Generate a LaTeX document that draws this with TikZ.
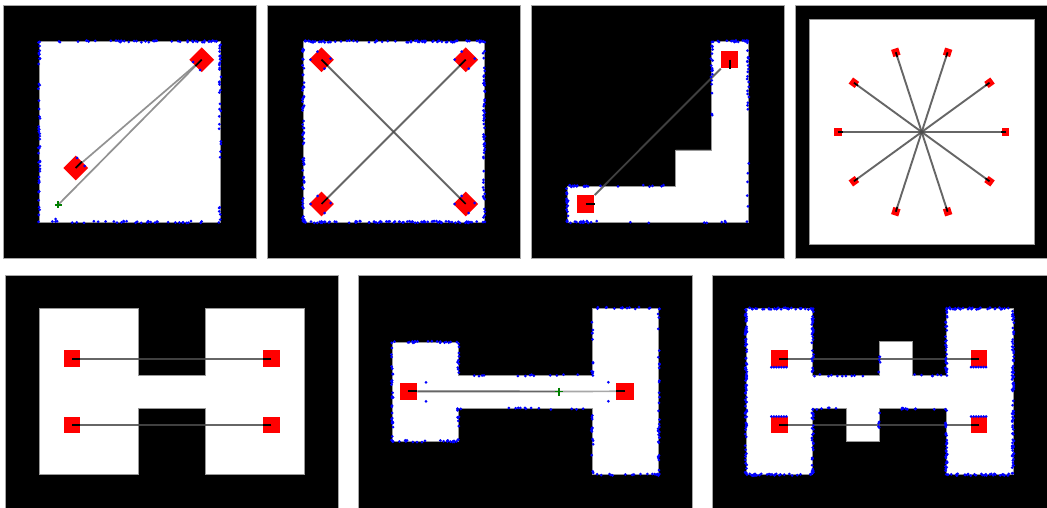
\documentclass[tikz,border=0pt]{standalone}
\usepackage{tikz}
\usetikzlibrary{calc}

% dots scattered along a wall: x1,y1,x2,y2,how many
\newcommand{\walldots}[5]{
    \foreach \i in {1,...,#5} {
        \pgfmathsetmacro{\t}{0.5+0.5*rand}
        \pgfmathsetmacro{\dotx}{#1+(#3-#1)*\t+0.9*rand}
        \pgfmathsetmacro{\doty}{#2+(#4-#2)*\t+0.9*rand}
        \fill [hit] (\dotx,\doty) circle (1.5);
    }
}

\begin{document}
\begin{tikzpicture}[x=1pt, y=-1pt]
    % Stili
    \tikzstyle{panel}=[fill=black, draw=black!35, line width=0.6pt]
    \tikzstyle{free}=[fill=white, draw=black!40, line width=0.6pt]
    \tikzstyle{agent}=[rectangle, draw=none, fill=red, inner sep=0pt, minimum size=17.5pt]
    \tikzstyle{smallagent}=[agent, minimum size=7.5pt]
    \tikzstyle{link}=[black!70, opacity=0.85, line width=1.9pt]
    \tikzstyle{thinlink}=[black!50, opacity=0.85, line width=1.7pt]
    \tikzstyle{tick}=[black, line width=1.7pt]
    \tikzstyle{hit}=[fill=blue]
    \tikzstyle{target}=[green!50!black, line width=1.9pt]

    \pgfmathsetseed{4}
    \useasboundingbox (0,0) rectangle (1047,508);

    % Primo pannello
    \draw [panel] (3.7,5.5) rectangle (256,258);
    \draw [free] (39.3,41.5) rectangle (220,222);
    \node (aS) [agent, rotate=45] at (75.7,168) {};
    \node (aG) [agent, rotate=45] at (201.7,59.7) {};
    \coordinate (aP) at (58.3,204.7);
    \draw [thinlink] (aS) -- (aG);
    \draw [thinlink] (aP) -- (aG);
    \draw [tick] (aS.center) -- (aS.east);
    \draw [tick] (aG.center) -- (aG.west);
    \draw [target] (aP) ++(-3.5,0) -- ++(7,0) (aP) ++(0,-3.5) -- ++(0,7);
    \walldots{39.3}{41.5}{220}{41.5}{34}
    \walldots{39.3}{222}{220}{222}{36}
    \walldots{39.3}{41.5}{39.3}{222}{45}
    \walldots{220}{41.5}{220}{222}{26}
    \walldots{190}{41.5}{220}{41.5}{10}
    \walldots{220}{45}{220}{70}{9}
    \fill [hit] (55.5,219) circle (1.5) (77,158) circle (1.5) (84.5,166) circle (1.5) (193,62) circle (1.5) (200,70) circle (1.5);

    % Secondo pannello
    \draw [panel] (267.5,5.5) rectangle (520,258);
    \draw [free] (303.3,41.5) rectangle (484,222);
    \node (bA) [agent, rotate=45] at (321.5,59.7) {};
    \node (bB) [agent, rotate=45] at (465.7,59.7) {};
    \node (bC) [agent, rotate=45] at (321.5,204) {};
    \node (bD) [agent, rotate=45] at (465.7,204) {};
    \draw [link] (bA) -- (bD);
    \draw [link] (bB) -- (bC);
    \draw [tick] (bA.center) -- (bA.south);
    \draw [tick] (bB.center) -- (bB.west);
    \draw [tick] (bC.center) -- (bC.east);
    \draw [tick] (bD.center) -- (bD.north);
    \walldots{303.3}{41.5}{484}{41.5}{70}
    \walldots{303.3}{222}{484}{222}{80}
    \walldots{303.3}{41.5}{303.3}{222}{65}
    \walldots{484}{41.5}{484}{222}{60}
    \foreach \n in {bA,bB,bC,bD} {
        \fill [hit] (\n.center) ++(-11,0) circle (1.5) ++(20,-1) circle (1.5) ++(-6,10) circle (1.5) ++(-7,-17) circle (1.5);
    }

    % Terzo pannello
    \draw [panel] (531.7,5.5) rectangle (784,258);
    \draw [free] (567.3,186) -- (675.7,186) -- (675.7,150) -- (711.7,150) -- (711.7,41.3) -- (748,41.3) -- (748,222) -- (567.3,222) -- cycle;
    \node (cS) [agent] at (585.7,204) {};
    \node (cG) [agent] at (729.7,59.7) {};
    \draw [link] (cS) -- (cG);
    \draw [tick] (cS.center) -- (cS.east);
    \draw [tick] (cG.center) -- (cG.south);
    \walldots{567.3}{186}{590}{186}{14}
    \walldots{590}{186}{665}{186}{7}
    \walldots{567.3}{222}{600}{222}{16}
    \walldots{600}{222}{748}{222}{8}
    \walldots{567.3}{186}{567.3}{222}{18}
    \walldots{711.7}{41.3}{748}{41.3}{16}
    \walldots{711.7}{41.3}{711.7}{80}{16}
    \walldots{711.7}{80}{711.7}{136}{5}
    \walldots{748}{41.3}{748}{110}{20}
    \walldots{748}{160}{748}{222}{5}

    % Quarto pannello
    \draw [panel] (795.3,5.5) rectangle (1047,258);
    \draw [free] (809.3,19.3) rectangle (1034.3,244.3);
    \coordinate (hub) at (921.7,132);
    \foreach \a in {0,36,...,324} {
        \node (d\a) [smallagent, rotate=-\a] at ($(hub)+(\a:83.8)$) {};
    }
    \foreach \a/\b in {0/180,36/216,72/252,108/288,144/324} {
        \draw [link] (d\a) -- (d\b);
    }
    \foreach \a in {0,36,...,324} {
        \draw [tick] (d\a.center) -- ($(d\a.center)!5pt!(hub)$);
    }

    % Quinto pannello
    \draw [panel] (5.3,275.5) rectangle (338.7,510);
    \draw [free] (39,308) -- (138.3,308) -- (138.3,375.3) -- (205.3,375.3) -- (205.3,308) -- (304.7,308) -- (304.7,474.7) -- (205.3,474.7) -- (205.3,408.7) -- (138.3,408.7) -- (138.3,474.7) -- (39,474.7) -- cycle;
    \node (eA) [agent, minimum size=16.5pt] at (72,358.7) {};
    \node (eB) [agent, minimum size=16.5pt] at (271.3,358.7) {};
    \node (eC) [agent, minimum size=16.5pt] at (72,425) {};
    \node (eD) [agent, minimum size=16.5pt] at (271.3,425) {};
    \draw [link] (eA) -- (eB);
    \draw [link] (eC) -- (eD);
    \foreach \n in {eA,eC} { \draw [tick] (\n.center) -- (\n.east); }
    \foreach \n in {eB,eD} { \draw [tick] (\n.center) -- (\n.west); }

    % Sesto pannello
    \draw [panel] (358.7,275.5) rectangle (692.3,510);
    \draw [free] (392.3,342) -- (458.3,342) -- (458.3,375.3) -- (592.3,375.3) -- (592.3,308) -- (658.7,308) -- (658.7,474.7) -- (592.3,474.7) -- (592.3,408.7) -- (458.3,408.7) -- (458.3,441.3) -- (392.3,441.3) -- cycle;
    \node (fS) [agent] at (408.3,391.3) {};
    \node (fG) [agent] at (625,391.3) {};
    \coordinate (fP) at (559,391.5);
    \draw [link] (fS) -- (fP);
    \draw [thinlink, black!40] (fP) -- (fG);
    \draw [tick] (fS.center) -- (fS.east);
    \draw [tick] (fG.center) -- (fG.west);
    \draw [target] (fP) ++(-4,0) -- ++(8,0) (fP) ++(0,-4) -- ++(0,8);
    \walldots{392.3}{342}{458.3}{342}{20}
    \walldots{392.3}{441.3}{458.3}{441.3}{20}
    \walldots{392.3}{342}{392.3}{441.3}{30}
    \walldots{458.3}{342}{458.3}{375.3}{10}
    \walldots{458.3}{408.7}{458.3}{441.3}{10}
    \walldots{458.3}{375.3}{592.3}{375.3}{13}
    \walldots{458.3}{408.7}{592.3}{408.7}{13}
    \walldots{592.3}{308}{592.3}{375.3}{11}
    \walldots{592.3}{408.7}{592.3}{474.7}{14}
    \walldots{592.3}{308}{658.7}{308}{14}
    \walldots{592.3}{474.7}{658.7}{474.7}{15}
    \walldots{658.7}{308}{658.7}{474.7}{34}
    \fill [hit] (426,382.3) circle (1.5) (426,401.3) circle (1.5) (608.3,382.3) circle (1.5) (608.3,401.3) circle (1.5);

    % Settimo pannello
    \draw [panel] (712.3,275.5) rectangle (1048,510);
    \draw [free] (746,308.5) -- (812.7,308.5) -- (812.7,375.3) -- (879.3,375.3) -- (879.3,341.3) -- (912.7,341.3) -- (912.7,375.3) -- (946.3,375.3) -- (946.3,308.5) -- (1013,308.5) -- (1013,474.7) -- (946.3,474.7) -- (946.3,408.7) -- (879.3,408.7) -- (879.3,441.3) -- (846,441.3) -- (846,408.7) -- (812.7,408.7) -- (812.7,474.7) -- (746,474.7) -- cycle;
    \node (gA) [agent, minimum size=16.5pt] at (779.3,358.7) {};
    \node (gB) [agent, minimum size=16.5pt] at (979,358.7) {};
    \node (gC) [agent, minimum size=16.5pt] at (779.3,425) {};
    \node (gD) [agent, minimum size=16.5pt] at (979,425) {};
    \draw [link] (gA) -- (gB);
    \draw [link] (gC) -- (gD);
    \foreach \n in {gA,gC} { \draw [tick] (\n.center) -- (\n.east); }
    \foreach \n in {gB,gD} { \draw [tick] (\n.center) -- (\n.west); }
    \walldots{746}{308.5}{812.7}{308.5}{30}
    \walldots{746}{474.7}{812.7}{474.7}{32}
    \walldots{946.3}{308.5}{1013}{308.5}{30}
    \walldots{946.3}{474.7}{1013}{474.7}{32}
    \walldots{746}{308.5}{746}{474.7}{90}
    \walldots{1013}{308.5}{1013}{474.7}{90}
    \walldots{812.7}{308.5}{812.7}{375.3}{30}
    \walldots{812.7}{408.7}{812.7}{474.7}{30}
    \walldots{946.3}{308.5}{946.3}{375.3}{30}
    \walldots{946.3}{408.7}{946.3}{474.7}{30}
    \walldots{812.7}{375.3}{879.3}{375.3}{10}
    \walldots{912.7}{375.3}{946.3}{375.3}{6}
    \walldots{812.7}{408.7}{846}{408.7}{6}
    \walldots{879.3}{408.7}{946.3}{408.7}{10}
    \walldots{879.3}{352}{879.3}{375.3}{5}
    \walldots{879.3}{408.7}{879.3}{430}{5}
    \foreach \n in {gA,gB} {
        \foreach \k in {-8,-5.5,...,8} { \fill [hit] ($(\n.center)+(\k,8.5)$) circle (1.5); }
    }
    \foreach \n in {gC,gD} {
        \foreach \k in {-8,-5.5,...,8} { \fill [hit] ($(\n.center)+(\k,-8.5)$) circle (1.5); }
    }
\end{tikzpicture}
\end{document}
